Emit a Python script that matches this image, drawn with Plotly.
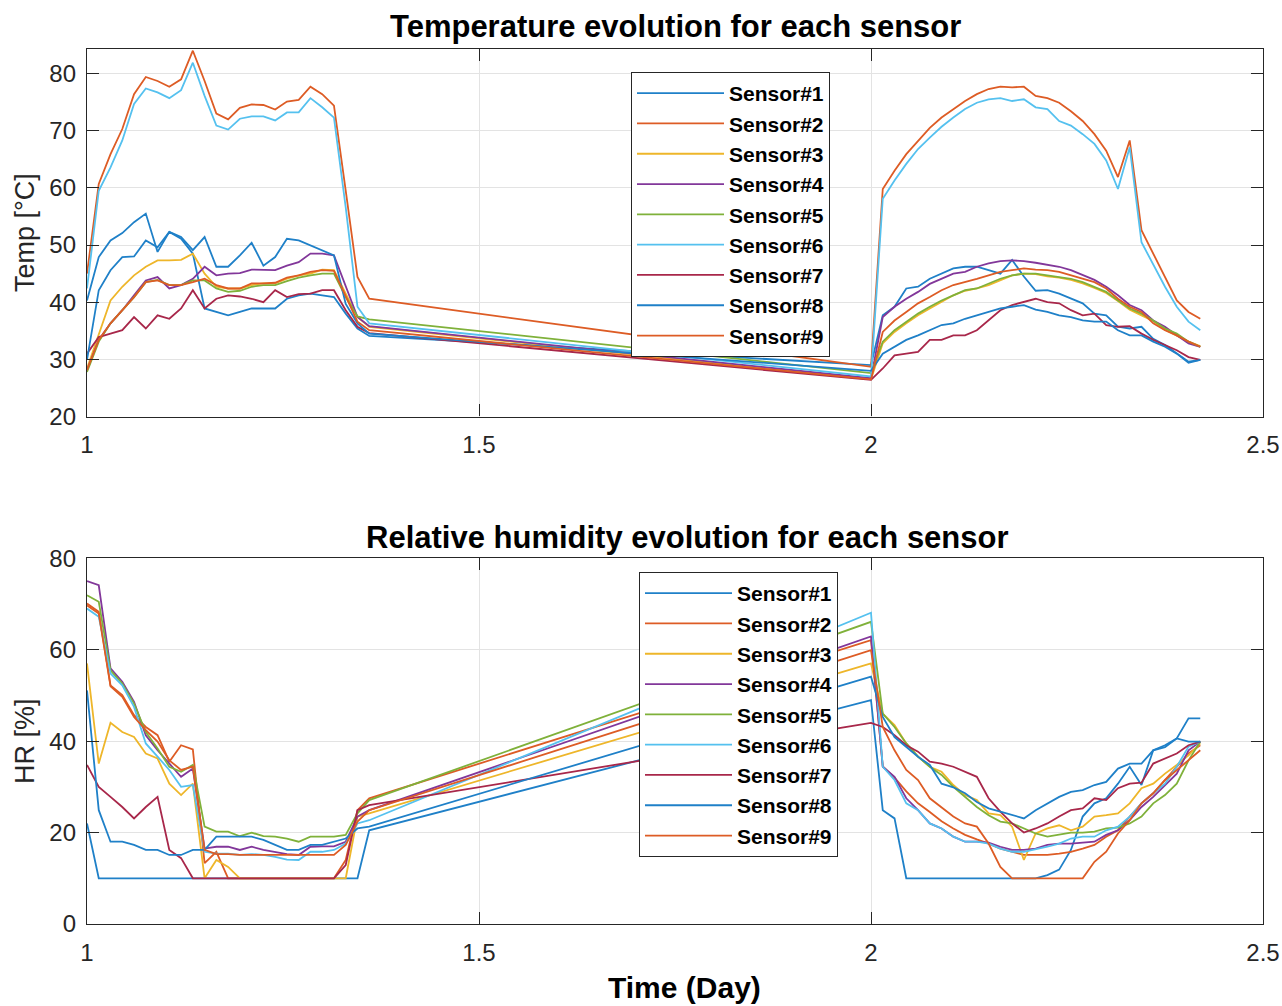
import plotly.graph_objects as go

# ---------------- data ----------------
time_a = [1.000, 1.015, 1.030, 1.045, 1.060, 1.075, 1.090, 1.105, 1.120, 1.135,
          1.150, 1.165, 1.180, 1.195, 1.210, 1.225, 1.240, 1.255, 1.270, 1.285,
          1.300, 1.315, 1.330, 1.345, 1.360]
time_b = [2.000, 2.015, 2.030, 2.045, 2.060, 2.075, 2.090, 2.105, 2.120, 2.135,
          2.150, 2.165, 2.180, 2.195, 2.210, 2.225, 2.240, 2.255, 2.270, 2.285,
          2.300, 2.315, 2.330, 2.345, 2.360, 2.375, 2.390, 2.405, 2.420]
time_days = time_a + time_b

sensor_names = ["Sensor#1", "Sensor#2", "Sensor#3", "Sensor#4", "Sensor#5",
                "Sensor#6", "Sensor#7", "Sensor#8", "Sensor#9"]

temp_s1 = [40.3, 47.9, 50.8, 52.1, 54.0, 55.5, 48.8, 52.3, 51.1, 48.5, 38.9, 38.3, 37.7, 38.3, 38.9, 38.9, 38.9, 40.6, 41.2, 41.5, 41.2, 40.9, 38.0, 35.4, 34.1,
           29.0, 37.7, 39.2, 42.4, 42.7, 44.1, 45.0, 45.9, 46.2, 46.2, 45.6, 45.0, 47.4, 44.5, 42.0, 42.1, 41.5, 40.6, 39.8, 38.0, 37.7, 35.7, 35.4, 35.7, 33.6, 32.5, 31.0, 29.6, 29.9]
temp_s2 = [45.0, 60.7, 65.9, 70.3, 76.4, 79.4, 78.7, 77.7, 79.0, 84.0, 78.7, 73.0, 72.0, 74.0, 74.6, 74.5, 73.7, 75.1, 75.4, 77.7, 76.4, 74.4, 59.5, 44.4, 40.6,
           28.7, 59.8, 63.0, 65.9, 68.3, 70.5, 72.3, 73.8, 75.2, 76.4, 77.3, 77.7, 77.6, 77.7, 76.1, 75.7, 74.9, 73.4, 71.7, 69.4, 66.5, 61.9, 68.3, 52.6, 48.5, 44.4, 40.3, 38.3, 37.1]
temp_s3 = [28.4, 34.5, 40.3, 42.7, 44.7, 46.2, 47.3, 47.3, 47.4, 48.5, 45.0, 42.7, 42.4, 42.4, 43.0, 43.3, 43.3, 44.1, 44.7, 45.0, 45.7, 45.6, 41.5, 37.4, 35.7,
           26.5, 32.8, 34.8, 36.3, 37.7, 38.9, 40.0, 41.2, 42.0, 42.4, 43.0, 43.9, 44.7, 45.0, 44.9, 44.5, 44.3, 43.9, 43.3, 42.5, 41.6, 40.2, 38.7, 37.7, 36.7, 35.2, 34.2, 33.1, 32.3]
temp_s4 = [28.1, 33.4, 36.3, 38.6, 41.2, 43.8, 44.4, 42.4, 43.0, 44.1, 46.2, 44.7, 45.0, 45.1, 45.7, 45.6, 45.6, 46.4, 47.0, 48.5, 48.5, 48.2, 42.7, 37.4, 35.8,
           26.7, 37.4, 39.2, 40.6, 41.8, 43.2, 44.1, 45.0, 45.3, 46.2, 46.8, 47.2, 47.3, 47.2, 46.9, 46.6, 46.2, 45.6, 44.7, 43.9, 42.7, 41.2, 39.5, 38.6, 36.8, 35.7, 34.2, 32.8, 32.2]
temp_s5 = [27.8, 33.1, 36.3, 38.6, 40.9, 43.5, 43.9, 43.0, 43.0, 43.8, 43.8, 42.4, 41.8, 42.0, 42.7, 43.0, 43.0, 43.7, 44.3, 44.7, 45.0, 45.0, 40.9, 37.5, 37.0,
           27.6, 33.1, 35.1, 36.6, 38.0, 39.2, 40.3, 41.2, 42.1, 42.4, 43.2, 44.1, 44.7, 45.0, 45.0, 44.7, 44.4, 44.1, 43.5, 42.7, 41.8, 40.3, 38.9, 38.0, 36.8, 35.4, 34.5, 33.1, 32.2]
temp_s6 = [42.4, 59.5, 63.6, 68.3, 74.7, 77.4, 76.7, 75.7, 77.1, 81.9, 76.1, 70.9, 70.2, 72.1, 72.5, 72.5, 71.8, 73.2, 73.2, 75.7, 74.1, 72.3, 56.6, 39.2, 36.3,
           27.0, 58.1, 61.3, 64.2, 66.8, 68.8, 70.7, 72.3, 73.8, 74.9, 75.5, 75.7, 75.2, 75.5, 74.1, 73.8, 71.7, 70.9, 69.4, 67.7, 64.8, 59.8, 67.1, 50.5, 46.7, 42.7, 39.2, 36.6, 35.1]
temp_s7 = [31.0, 33.9, 34.5, 35.1, 37.4, 35.4, 37.7, 37.1, 38.9, 42.1, 38.9, 40.6, 41.2, 41.0, 40.6, 40.0, 42.1, 40.9, 41.4, 41.5, 42.1, 42.1, 38.6, 35.7, 34.6,
           26.4, 28.4, 30.7, 31.0, 31.3, 33.4, 33.4, 34.2, 34.2, 35.1, 36.8, 38.6, 39.5, 40.0, 40.6, 40.0, 39.8, 38.6, 37.7, 38.0, 36.0, 35.7, 35.8, 34.5, 33.4, 32.5, 31.6, 30.4, 29.9]
temp_s8 = [29.9, 42.1, 45.6, 47.9, 48.0, 50.8, 49.6, 52.3, 51.4, 49.1, 51.4, 46.2, 46.2, 48.2, 50.4, 46.4, 47.9, 51.1, 50.8, 49.9, 49.1, 48.2, 39.7, 36.3, 34.5,
           28.0, 31.0, 32.2, 33.4, 34.2, 35.1, 36.0, 36.3, 37.1, 37.7, 38.3, 38.9, 39.2, 39.5, 38.7, 38.3, 37.7, 37.4, 36.8, 36.6, 36.6, 35.1, 34.2, 34.2, 33.1, 32.2, 31.0, 29.4, 29.9]
temp_s9 = [28.1, 33.4, 36.3, 38.6, 40.9, 43.5, 43.8, 43.0, 43.0, 43.5, 44.1, 43.0, 42.4, 42.4, 43.3, 43.3, 43.4, 44.3, 44.7, 45.3, 45.6, 45.5, 40.9, 36.6, 35.1,
           26.5, 34.8, 36.8, 38.3, 39.8, 40.9, 42.1, 43.0, 43.5, 44.1, 44.7, 45.3, 45.6, 45.9, 45.7, 45.6, 45.3, 44.7, 44.1, 43.5, 42.4, 40.6, 39.2, 38.3, 36.3, 35.1, 34.2, 33.1, 32.2]

hr_s1 = [22.0, 10.0, 10.0, 10.0, 10.0, 10.0, 10.0, 10.0, 10.0, 10.0, 10.0, 10.0, 10.0, 10.0, 10.0, 10.0, 10.0, 10.0, 10.0, 10.0, 10.0, 10.0, 10.0, 10.0, 20.5,
         49.0, 24.9, 23.1, 10.0, 10.0, 10.0, 10.0, 10.0, 10.0, 10.0, 10.0, 10.0, 10.0, 10.0, 10.0, 10.7, 11.9, 16.2, 23.5, 26.4, 27.5, 30.7, 34.4, 30.4, 38.0, 38.7, 40.6, 45.0, 45.0]
hr_s2 = [70.1, 68.3, 52.2, 50.1, 45.7, 43.1, 41.3, 35.5, 39.1, 38.2, 13.3, 15.8, 10.0, 10.0, 10.0, 10.0, 10.0, 10.0, 10.0, 10.0, 10.0, 10.0, 14.0, 24.9, 27.5,
         62.1, 34.5, 32.0, 29.0, 26.4, 24.5, 22.5, 20.9, 19.5, 18.5, 17.6, 16.5, 15.8, 15.1, 15.1, 15.1, 15.4, 15.8, 16.5, 17.3, 19.1, 20.5, 23.5, 26.4, 28.6, 31.5, 34.4, 37.3, 39.1]
hr_s3 = [57.0, 35.1, 44.0, 42.0, 40.9, 37.3, 36.2, 30.7, 28.2, 30.7, 10.0, 14.0, 12.5, 10.0, 10.0, 10.0, 10.0, 10.0, 10.0, 10.0, 10.0, 10.0, 10.0, 23.5, 24.2,
         57.0, 46.0, 43.5, 39.5, 36.6, 34.4, 33.3, 30.4, 28.2, 27.1, 24.2, 23.8, 21.3, 14.0, 19.8, 20.9, 21.6, 20.5, 21.3, 23.5, 23.8, 24.2, 26.4, 29.7, 30.7, 32.9, 34.8, 36.9, 39.5]
hr_s4 = [75.0, 74.1, 55.9, 53.0, 48.6, 41.3, 38.0, 35.1, 32.2, 34.0, 16.5, 16.9, 16.9, 16.2, 16.9, 16.2, 15.8, 15.3, 15.1, 16.9, 17.0, 17.0, 18.0, 23.5, 24.9,
         62.9, 34.4, 32.2, 27.5, 24.9, 22.0, 20.9, 19.1, 18.0, 18.0, 17.8, 16.9, 16.2, 16.2, 16.5, 17.3, 17.6, 17.6, 17.8, 18.0, 19.5, 20.5, 22.7, 25.6, 27.8, 30.4, 32.9, 38.0, 39.9]
hr_s5 = [71.9, 70.5, 55.5, 52.6, 48.2, 42.0, 38.4, 34.4, 33.3, 34.8, 21.3, 20.2, 20.2, 19.2, 20.0, 19.2, 19.1, 18.7, 18.0, 19.1, 19.1, 19.1, 19.5, 24.2, 27.1,
         66.1, 46.0, 43.1, 39.5, 36.6, 34.4, 32.6, 30.0, 27.8, 25.6, 23.8, 22.4, 22.0, 20.9, 19.8, 19.1, 19.5, 20.0, 20.0, 20.2, 20.9, 21.1, 22.0, 23.5, 26.4, 28.2, 30.7, 35.8, 39.9]
hr_s6 = [69.0, 67.2, 54.8, 52.2, 47.5, 39.5, 36.6, 33.7, 30.0, 30.4, 15.8, 15.4, 15.4, 15.1, 15.3, 15.1, 14.7, 14.1, 14.0, 15.8, 15.8, 16.2, 17.6, 22.0, 22.7,
         68.1, 34.4, 31.5, 26.4, 24.9, 22.0, 20.9, 19.1, 18.0, 18.0, 17.6, 16.5, 15.8, 15.8, 16.3, 16.9, 17.6, 18.7, 19.1, 19.1, 20.5, 21.3, 23.5, 26.4, 28.6, 30.7, 34.4, 38.8, 39.9]
hr_s7 = [34.8, 30.0, 27.8, 25.6, 23.1, 25.6, 27.8, 16.2, 14.4, 10.0, 10.0, 10.0, 10.0, 10.0, 10.0, 10.0, 10.0, 10.0, 10.0, 10.0, 10.0, 10.0, 12.9, 24.9, 26.0,
         44.0, 43.1, 41.3, 39.1, 37.7, 35.5, 35.1, 34.4, 33.3, 32.2, 27.5, 24.6, 22.0, 20.0, 20.9, 22.0, 23.5, 24.9, 25.3, 27.5, 27.1, 29.7, 30.7, 30.9, 35.1, 36.2, 37.3, 39.1, 39.9]
hr_s8 = [51.1, 24.9, 18.0, 18.0, 17.3, 16.2, 16.2, 15.1, 15.1, 16.2, 16.2, 19.1, 19.1, 19.1, 19.1, 18.4, 17.3, 16.2, 16.2, 17.3, 17.3, 18.0, 18.7, 20.9, 21.3,
         54.1, 45.3, 40.9, 38.8, 36.6, 34.8, 30.7, 29.9, 28.6, 26.7, 25.3, 24.6, 23.8, 23.1, 24.9, 26.4, 27.8, 28.9, 29.3, 30.4, 31.1, 34.0, 35.1, 35.1, 38.0, 39.1, 40.6, 39.9, 39.9]
hr_s9 = [69.7, 67.9, 52.0, 49.7, 45.3, 42.4, 39.9, 35.8, 33.7, 34.4, 16.2, 15.3, 15.3, 15.1, 15.1, 15.1, 15.1, 15.1, 15.1, 15.1, 15.1, 15.1, 17.3, 22.4, 24.9,
         59.9, 43.1, 38.0, 33.7, 31.5, 27.5, 25.6, 23.5, 22.0, 21.3, 17.6, 12.5, 10.0, 10.0, 10.0, 10.0, 10.0, 10.0, 10.0, 13.6, 15.8, 19.8, 22.7, 26.4, 28.6, 31.5, 33.7, 35.8, 38.0]

temp_series = [temp_s1, temp_s2, temp_s3, temp_s4, temp_s5, temp_s6, temp_s7, temp_s8, temp_s9]
hr_series = [hr_s1, hr_s2, hr_s3, hr_s4, hr_s5, hr_s6, hr_s7, hr_s8, hr_s9]

x_ticks = [1, 1.5, 2, 2.5]
x_tick_labels = ["1", "1.5", "2", "2.5"]
temp_ticks = [20, 30, 40, 50, 60, 70, 80]
hr_ticks = [0, 20, 40, 60, 80]

# ---------------- style ----------------
colors = ["#1f80c8", "#dd5c25", "#eeb62a", "#82379a", "#7fb13a",
          "#55c1ef", "#a8274a", "#1f80c8", "#dd5c25"]
W, H = 1282, 1006
FONT = "Liberation Sans, Arial, Helvetica, sans-serif"
DARK = "#262626"
GRID = "#e3e3e3"

fig = go.Figure()
for i in range(9):
    fig.add_trace(go.Scatter(x=time_days, y=temp_series[i], mode="lines",
                             name=sensor_names[i], line=dict(color=colors[i], width=1.8),
                             xaxis="x", yaxis="y", legend="legend",
                             legendgroup="t%d" % i))
for i in range(9):
    fig.add_trace(go.Scatter(x=time_days, y=hr_series[i], mode="lines",
                             name=sensor_names[i], line=dict(color=colors[i], width=1.8),
                             xaxis="x2", yaxis="y2", legend="legend2",
                             legendgroup="h%d" % i))


def px_x(p):
    return p / W


def px_y(p):
    return 1 - p / H


xdom = [px_x(87), px_x(1263)]
common_x = dict(range=[1, 2.5], tickvals=x_ticks, ticktext=x_tick_labels,
                showline=True, linecolor=DARK, linewidth=1.3, mirror="ticks",
                ticks="inside", ticklen=12, tickcolor=DARK, tickwidth=1.3,
                showgrid=True, gridcolor=GRID, gridwidth=1, zeroline=False,
                tickfont=dict(family=FONT, size=24, color=DARK),
                ticklabelstandoff=7, automargin=False, domain=xdom)
common_y = dict(showline=True, linecolor=DARK, linewidth=1.3, mirror="ticks",
                ticks="inside", ticklen=12, tickcolor=DARK, tickwidth=1.3,
                showgrid=True, gridcolor=GRID, gridwidth=1, zeroline=False,
                tickfont=dict(family=FONT, size=24, color=DARK),
                ticklabelstandoff=5, automargin=False)

legend_common = dict(xanchor="left", yanchor="top", bgcolor="white",
                     bordercolor=DARK, borderwidth=1,
                     font=dict(family=FONT, size=21, color="black", weight="bold"),
                     itemwidth=87, tracegroupgap=0, traceorder="normal")

fig.update_layout(
    width=W, height=H,
    margin=dict(l=0, r=0, t=0, b=0),
    paper_bgcolor="white", plot_bgcolor="white",
    xaxis=dict(common_x, anchor="y"),
    yaxis=dict(common_y, anchor="x", range=[20, 84.3], tickvals=temp_ticks,
               domain=[px_y(416.5), px_y(49)]),
    xaxis2=dict(common_x, anchor="y2"),
    yaxis2=dict(common_y, anchor="x2", range=[0, 80], tickvals=hr_ticks,
                domain=[px_y(924), px_y(558.3)]),
    legend=dict(legend_common, x=px_x(631), y=px_y(72)),
    legend2=dict(legend_common, x=px_x(639), y=px_y(572)),
    showlegend=True,
    annotations=[
        dict(text="<b>Temperature evolution for each sensor</b>", x=px_x(676), y=px_y(27),
             xref="paper", yref="paper", showarrow=False, xanchor="center", yanchor="middle",
             font=dict(family=FONT, size=31, color="black")),
        dict(text="<b>Relative humidity evolution for each sensor</b>", x=px_x(687), y=px_y(537),
             xref="paper", yref="paper", showarrow=False, xanchor="center", yanchor="middle",
             font=dict(family=FONT, size=31, color="black")),
        dict(text="<b>Time (Day)</b>", x=px_x(684), y=px_y(987),
             xref="paper", yref="paper", showarrow=False, xanchor="center", yanchor="middle",
             font=dict(family=FONT, size=30, color="black")),
        dict(text="Temp [°C]", x=px_x(25), y=px_y(233), textangle=-90,
             xref="paper", yref="paper", showarrow=False, xanchor="center", yanchor="middle",
             font=dict(family=FONT, size=27, color=DARK)),
        dict(text="HR [%]", x=px_x(25), y=px_y(741), textangle=-90,
             xref="paper", yref="paper", showarrow=False, xanchor="center", yanchor="middle",
             font=dict(family=FONT, size=27, color=DARK)),
    ],
)

fig.write_html("out.html", config={"displayModeBar": False},
               post_script="document.body.style.margin='0';document.body.style.overflow='hidden';")
